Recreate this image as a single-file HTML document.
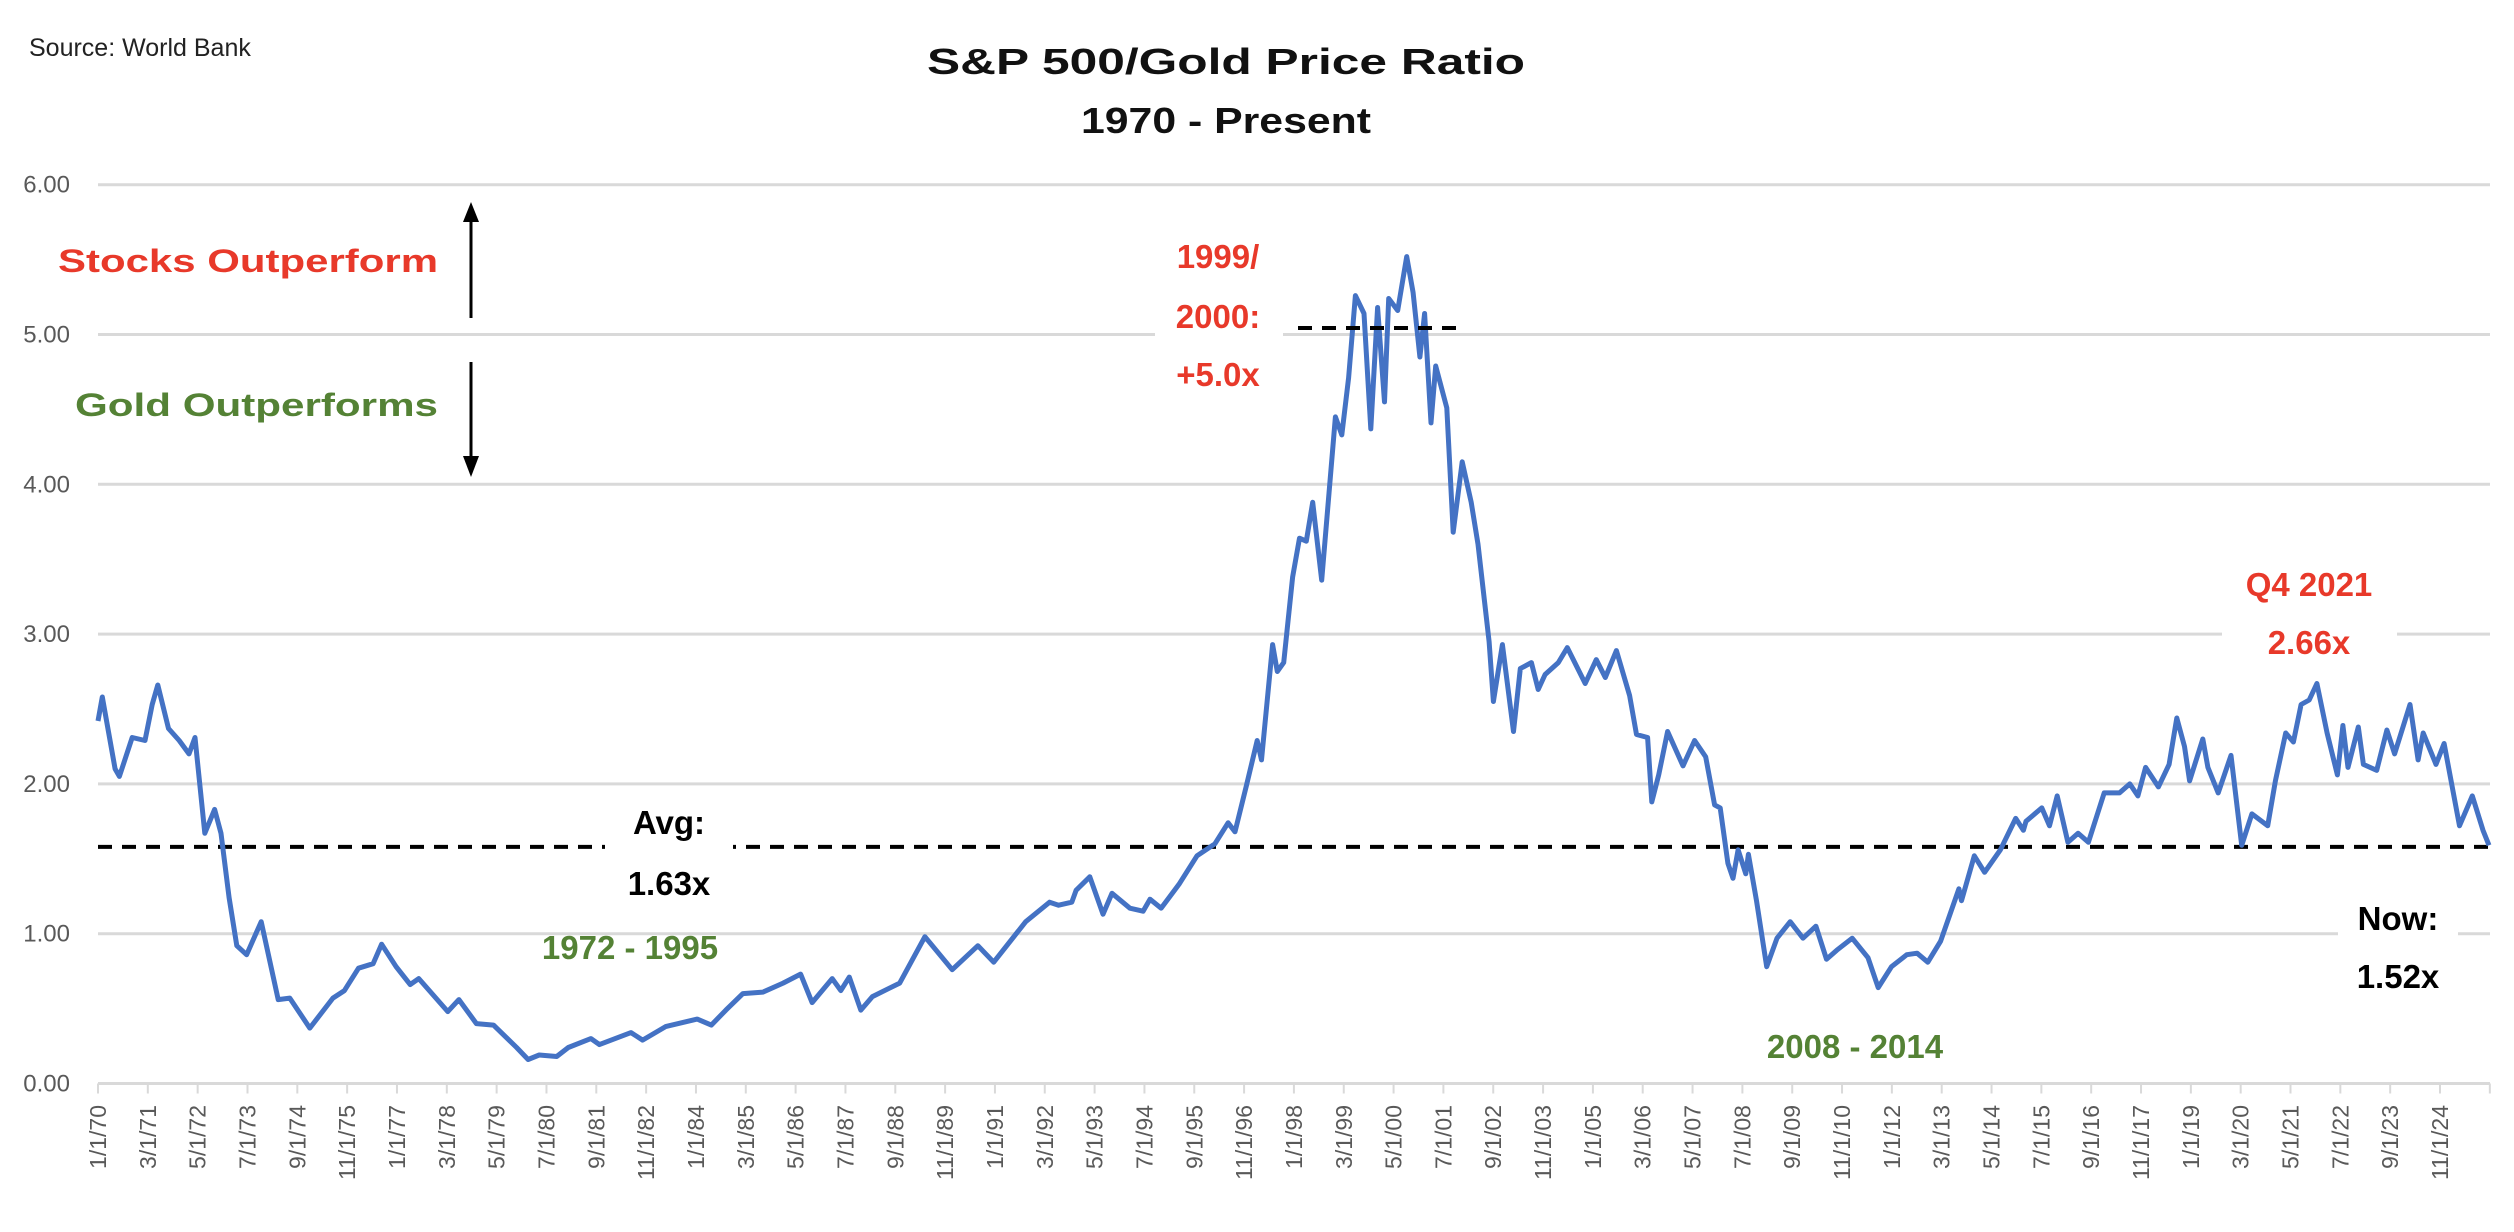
<!DOCTYPE html>
<html><head><meta charset="utf-8"><style>
html,body{margin:0;padding:0;background:#fff;}
svg{display:block;}
text{font-family:"Liberation Sans",sans-serif;}
</style></head><body>
<svg id="chart" width="2514" height="1232" viewBox="0 0 2514 1232" xmlns="http://www.w3.org/2000/svg">
<rect width="2514" height="1232" fill="#fff"/>
<g id="grid"></g>
<g id="yticks"></g>
<g id="xaxis"></g>
<g id="avg"></g>
<path id="series" fill="none" stroke="#4472c4" stroke-width="5" stroke-linejoin="round"/>
<line x1="1298" x2="1465" y1="328" y2="328" stroke="#000" stroke-width="4" stroke-dasharray="14 10"/>
<text x="29" y="56" font-size="25" fill="#222">Source: World Bank</text>
<text x="1226" y="74" font-size="36" font-weight="bold" text-anchor="middle" textLength="598" lengthAdjust="spacingAndGlyphs" fill="#111">S&amp;P 500/Gold Price Ratio</text>
<text x="1226" y="133" font-size="36" font-weight="bold" text-anchor="middle" textLength="290" lengthAdjust="spacingAndGlyphs" fill="#111">1970 - Present</text>
<text x="58" y="272" font-size="32" font-weight="bold" fill="#e8392a" textLength="380" lengthAdjust="spacingAndGlyphs">Stocks Outperform</text>
<text x="75" y="416" font-size="32" font-weight="bold" fill="#548235" textLength="363" lengthAdjust="spacingAndGlyphs">Gold Outperforms</text>
<g><line x1="471" y1="318" x2="471" y2="218" stroke="#000" stroke-width="3"/><polygon points="463,222 479,222 471,202" fill="#000"/></g>
<g><line x1="471" y1="362" x2="471" y2="460" stroke="#000" stroke-width="3"/><polygon points="463,456 479,456 471,477" fill="#000"/></g>
<g font-size="33" font-weight="bold" fill="#e8392a" text-anchor="middle">
<rect x="1155" y="225" width="128" height="170" fill="#fff"/>
<text x="1218" y="268">1999/</text><text x="1218" y="328">2000:</text><text x="1218" y="386">+5.0x</text></g>
<g font-size="33" font-weight="bold" fill="#e8392a" text-anchor="middle">
<rect x="2222" y="556" width="175" height="110" fill="#fff"/>
<text x="2309" y="596">Q4 2021</text><text x="2309" y="654">2.66x</text></g>
<g font-size="33" font-weight="bold" fill="#000" text-anchor="middle">
<rect x="2338" y="890" width="120" height="110" fill="#fff"/>
<text x="2398" y="930">Now:</text><text x="2398" y="988">1.52x</text></g>
<g font-size="33" font-weight="bold" fill="#000" text-anchor="middle">
<rect x="605" y="795" width="128" height="110" fill="#fff"/>
<text x="669" y="834">Avg:</text><text x="669" y="895">1.63x</text></g>
<text x="630" y="959" font-size="33" font-weight="bold" fill="#548235" text-anchor="middle">1972 - 1995</text>
<text x="1855" y="1058" font-size="33" font-weight="bold" fill="#548235" text-anchor="middle">2008 - 2014</text>
</svg>
<script>
const yearsA = [1970.0,1970.1,1970.4,1970.5,1970.8,1971.1,1971.27,1971.4,1971.65,1971.9,1972.13,1972.27,1972.5,1972.73,1972.88,1973.07,1973.25,1973.48,1973.82,1974.22,1974.49,1974.96,1975.5,1975.77,1976.1,1976.44,1976.64,1976.98,1977.31,1977.51,1978.19,1978.45,1978.86,1979.26,1979.8,1980.07,1980.33,1980.74,1981.01,1981.54,1981.74,1982.48,1982.75,1983.29,1984.03,1984.36,1984.7,1985.1,1985.57,1986.04,1986.45,1986.72,1987.19,1987.39,1987.59,1987.86,1988.13,1988.77,1989.36,1990.0,1990.6,1990.97,1991.72,1992.28,1992.49,1992.8,1992.9,1993.22,1993.53,1993.74,1994.16,1994.47,1994.63,1994.89,1995.31,1995.73,1996.15,1996.46,1996.62,1996.88,1997.14,1997.24,1997.5,1997.61,1997.76,1997.97,1998.13,1998.29,1998.44,1998.65,1998.97,1999.12,1999.28,1999.44,1999.64,1999.8,1999.96,2000.12,2000.22,2000.43,2000.64,2000.79,2000.95,2001.06,2001.21,2001.32,2001.58,2001.73,2001.94,2002.15,2002.31,2002.57,2002.67,2002.88,2003.14,2003.3,2003.56,2003.72,2003.88,2004.19,2004.4,2004.82,2005.08,2005.29,2005.55,2005.86,2006.02,2006.28,2006.38,2006.54,2006.75,2007.11,2007.38,2007.64,2007.85,2007.98,2008.16,2008.28,2008.4,2008.58,2008.64,2008.83,2009.07,2009.31,2009.62,2009.92,2010.22,2010.47,2010.71,2011.07,2011.44,2011.68,2011.99,2012.35,2012.59,2012.84,2013.14,2013.57,2013.63,2013.93,2014.17,2014.54,2014.9,2015.08,2015.14,2015.51,2015.69,2015.87,2016.12,2016.36,2016.6,2016.97,2017.33,2017.57,2017.76,2017.94,2018.24,2018.49,2018.67,2018.85,2018.97,2019.28,2019.4,2019.64,2019.94,2020.19,2020.43,2020.8,2020.98,2021.22,2021.4,2021.58,2021.77,2021.95,2022.19,2022.43,2022.56,2022.68,2022.92,2023.04,2023.35,2023.59,2023.77,2024.13,2024.32,2024.44,2024.74,2024.93,2025.29,2025.59,2025.84,2025.98];
const ratioValues = [2.42,2.58,2.1,2.05,2.31,2.29,2.53,2.66,2.37,2.29,2.2,2.31,1.67,1.83,1.67,1.24,0.92,0.86,1.08,0.56,0.57,0.37,0.57,0.62,0.77,0.8,0.93,0.78,0.66,0.7,0.48,0.56,0.4,0.39,0.24,0.16,0.19,0.18,0.24,0.3,0.26,0.34,0.29,0.38,0.43,0.39,0.49,0.6,0.61,0.67,0.73,0.54,0.7,0.62,0.71,0.49,0.58,0.67,0.98,0.76,0.92,0.81,1.08,1.21,1.19,1.21,1.29,1.38,1.13,1.27,1.17,1.15,1.23,1.17,1.33,1.52,1.6,1.74,1.68,1.98,2.29,2.16,2.93,2.75,2.81,3.38,3.64,3.62,3.88,3.36,4.45,4.33,4.71,5.26,5.14,4.37,5.18,4.55,5.24,5.16,5.52,5.28,4.85,5.14,4.41,4.79,4.51,3.68,4.15,3.88,3.6,2.95,2.55,2.93,2.35,2.77,2.81,2.63,2.73,2.81,2.91,2.67,2.83,2.71,2.89,2.59,2.33,2.31,1.88,2.06,2.35,2.12,2.29,2.18,1.86,1.84,1.47,1.37,1.56,1.4,1.53,1.22,0.78,0.97,1.08,0.97,1.05,0.83,0.89,0.97,0.84,0.64,0.78,0.86,0.87,0.81,0.95,1.3,1.22,1.52,1.41,1.56,1.77,1.69,1.75,1.84,1.72,1.92,1.61,1.67,1.61,1.94,1.94,2.0,1.92,2.11,1.98,2.13,2.44,2.25,2.02,2.3,2.11,1.94,2.19,1.59,1.8,1.72,2.02,2.34,2.28,2.53,2.56,2.67,2.34,2.06,2.39,2.11,2.38,2.13,2.09,2.36,2.2,2.53,2.16,2.34,2.13,2.27,1.72,1.92,1.69,1.59];
const yTickValues = [0,1,2,3,4,5,6];
const yTickLabels = ["0.00","1.00","2.00","3.00","4.00","5.00","6.00"];
const xTickLabels = (function(){const m=[1,3,5,7,9,11];const out=[];for(let i=0;i<48;i++){const mon=m[i%6];const yr=70+Math.floor(i*14/12);out.push(mon+"/1/"+String(yr%100).padStart(2,"0"));}return out;})();
const averageValue = 1.58;

const NS="http://www.w3.org/2000/svg";
const X0=98, X1=2490, TICKW=49.83;
const Y0=1083.5, UNIT=149.8;
function xScale(year){return X0+(year-1970)*TICKW*12/14;}
function yScale(v){return Y0-v*UNIT;}
function mk(tag,attrs,parent){const e=document.createElementNS(NS,tag);for(const k in attrs)e.setAttribute(k,attrs[k]);parent.appendChild(e);return e;}

const grid=document.getElementById('grid');
const yt=document.getElementById('yticks');
yTickValues.forEach((v,i)=>{
  const l=mk('line',{x1:X0,x2:X1,y1:yScale(v),y2:yScale(v),stroke:'#d9d9d9','stroke-width':3},grid);
  
  
  const t=mk('text',{x:70,y:yScale(v)+8,'font-size':24,fill:'#595959','text-anchor':'end'},yt);
  t.textContent=yTickLabels[i];
  
  
});
const xa=document.getElementById('xaxis');
for(let i=0;i<=48;i++){
  const x=X0+i*TICKW;
  const tk=mk('line',{x1:x,x2:x,y1:Y0,y2:Y0+10,stroke:'#d9d9d9','stroke-width':2},xa);
  
  
}
xTickLabels.forEach((lab,i)=>{
  const x=X0+i*TICKW+8;
  const t=mk('text',{x:x,y:1105,'font-size':23,fill:'#595959','text-anchor':'end',transform:'rotate(-90 '+x+' 1105)'},xa);
  t.textContent=lab;
  
  
});
const avg=document.getElementById('avg');
const al=mk('line',{x1:X0,x2:X1,y1:yScale(averageValue),y2:yScale(averageValue),stroke:'#000','stroke-width':4,'stroke-dasharray':'14 10'},avg);


let d='';
yearsA.forEach((y,i)=>{d+=(i?'L':'M')+xScale(y).toFixed(1)+' '+yScale(ratioValues[i]).toFixed(1)+' ';});
document.getElementById('series').setAttribute('d',d);
</script>
</body></html>
